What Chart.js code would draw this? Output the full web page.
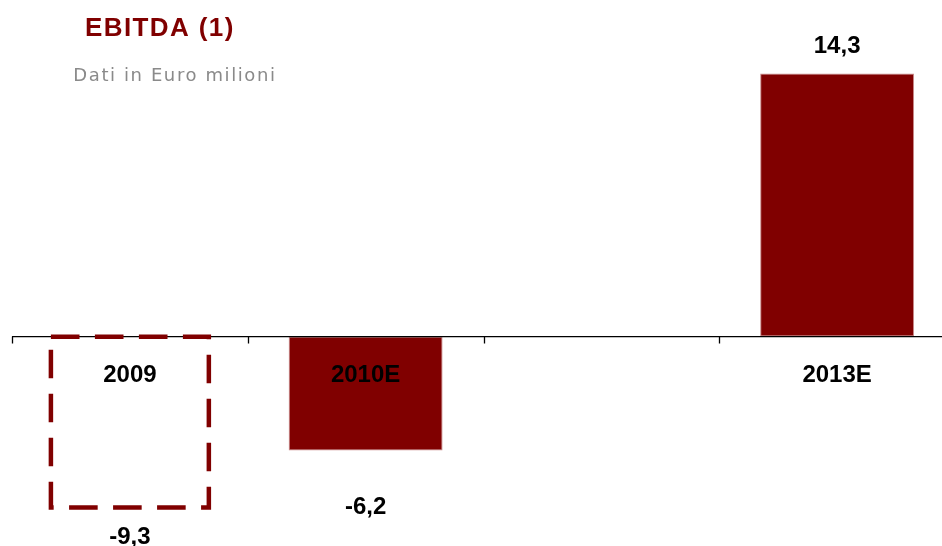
<!DOCTYPE html>
<html>
<head>
<meta charset="utf-8">
<title>EBITDA</title>
<script src="https://cdn.jsdelivr.net/npm/chart.js@4"></script>
<style>
  html, body { margin: 0; padding: 0; background: #ffffff; overflow: hidden; }
  #wrap { position: relative; width: 942px; height: 546px; overflow: hidden; }
  #c { position: absolute; left: 0; top: 0; }
</style>
</head>
<body>
<div id="wrap"><canvas id="c" width="955" height="546"></canvas></div>
<script>
// EBITDA, euro millions (Italian number format)
const categories = ['2009', '2010E', '', '2013E'];
const ebitda = [-9.3, -6.2, null, 14.3];
const titleText = 'EBITDA (1)';
const subtitleText = 'Dati in Euro milioni';

// styling
const DARK_RED = '#800000';
const outlined = [true, false, false, false];          // actual year drawn as dashed outline
const labelGap = [36.7, 63.4, 0, 20.6];                 // distance of value label baseline from bar end

const fmt = v => v.toFixed(1).replace('.', ',');

const annotate = {
  id: 'annotate',
  afterDatasetsDraw(chart) {
    const { ctx, scales: { x, y } } = chart;
    const meta = chart.getDatasetMeta(0);
    const zero = y.getPixelForValue(0);
    const step = (x.right - x.left) / categories.length;

    // category axis on the zero line
    ctx.save();
    ctx.strokeStyle = '#000000';
    ctx.lineWidth = 1.3;
    ctx.beginPath();
    ctx.moveTo(x.left, zero + 0.2);
    ctx.lineTo(x.right, zero + 0.2);
    for (let i = 0; i < categories.length; i++) {
      const px = Math.round(x.getPixelForValue(i) - step / 2) + 0.5;
      ctx.moveTo(px, zero);
      ctx.lineTo(px, zero + 7);
    }
    ctx.stroke();
    ctx.restore();

    // dashed outline bars
    meta.data.forEach((bar, i) => {
      if (!outlined[i] || ebitda[i] == null) return;
      const p = bar.getProps(['x', 'y', 'base', 'width'], true);
      const l = p.x - p.width / 2 - 2, r = p.x + p.width / 2 + 2;
      const t = Math.min(p.y, p.base) + 0.2, b = Math.max(p.y, p.base);
      ctx.save();
      ctx.strokeStyle = DARK_RED;
      ctx.lineWidth = 4.5;
      ctx.lineCap = 'butt';
      ctx.lineJoin = 'miter';
      ctx.setLineDash([28.6, 15.4]);
      ctx.beginPath();
      ctx.moveTo(l, t);
      ctx.lineTo(r, t);
      ctx.lineTo(r, b);
      ctx.lineTo(l, b);
      ctx.closePath();
      ctx.stroke();
      ctx.restore();
    });

    ctx.save();
    ctx.fillStyle = '#000000';
    ctx.textAlign = 'center';
    ctx.textBaseline = 'alphabetic';
    ctx.font = 'bold 24px "Liberation Sans", Arial, sans-serif';

    // category labels below the axis
    categories.forEach((c, i) => {
      if (!c) return;
      ctx.fillText(c, x.getPixelForValue(i), zero + 45.2);
    });

    // value labels
    meta.data.forEach((bar, i) => {
      const v = ebitda[i];
      if (v == null) return;
      const p = bar.getProps(['x', 'y'], true);
      const ty = v >= 0 ? p.y - labelGap[i] : p.y + labelGap[i];
      ctx.fillText(fmt(v), p.x, ty);
    });

    // heading
    ctx.textAlign = 'left';
    ctx.fillStyle = DARK_RED;
    ctx.font = 'bold 26px "Liberation Sans", Arial, sans-serif';
    if ('letterSpacing' in ctx) ctx.letterSpacing = '1.4px';
    ctx.fillText(titleText, 85, 35.7);

    ctx.fillStyle = '#8a8a8a';
    ctx.font = '18px "DejaVu Sans", Verdana, sans-serif';
    if ('letterSpacing' in ctx) ctx.letterSpacing = '1.6px';
    ctx.fillText(subtitleText, 73.3, 81);
    ctx.restore();
  }
};

new Chart(document.getElementById('c'), {
  type: 'bar',
  data: {
    labels: categories,
    datasets: [{
      data: ebitda,
      backgroundColor: outlined.map(o => o ? 'rgba(0,0,0,0)' : DARK_RED),
      borderColor: outlined.map(o => o ? 'rgba(0,0,0,0)' : '#c98a8a'),
      borderWidth: 1,
      borderSkipped: false,
      barPercentage: 0.653,
      categoryPercentage: 1
    }]
  },
  options: {
    responsive: false,
    animation: false,
    layout: { padding: { left: 12, right: 0, top: 0, bottom: 0 } },
    plugins: {
      legend: { display: false },
      tooltip: { enabled: false },
      title: { display: false }
    },
    scales: {
      x: { display: false, offset: true },
      y: { display: false, min: -11.39, max: 18.29 }
    }
  },
  plugins: [annotate]
});
</script>
</body>
</html>
